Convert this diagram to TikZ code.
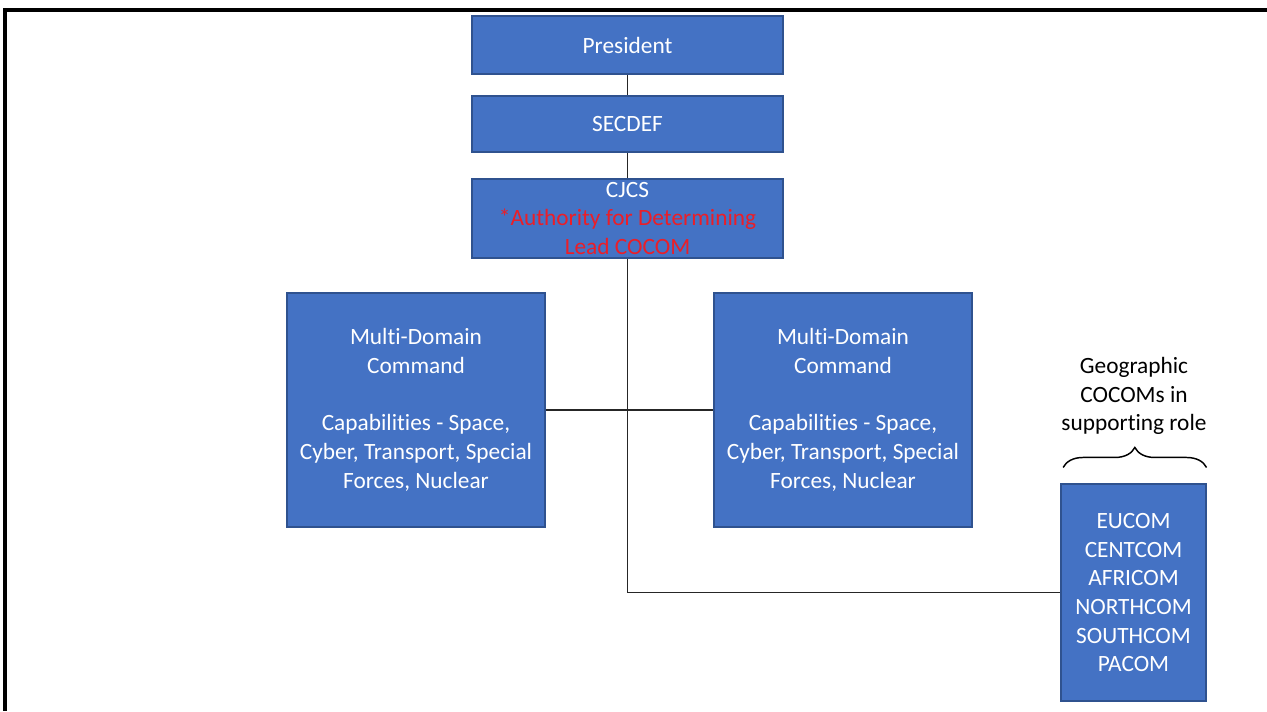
\documentclass[tikz,border=0pt]{standalone}
\usepackage{fontspec}
\setmainfont{Carlito}[Ligatures={NoCommon}]
\usetikzlibrary{decorations.pathreplacing}
\definecolor{boxblue}{HTML}{4472C4}
\definecolor{boxedge}{HTML}{2F528F}
\definecolor{noteRed}{RGB}{235,30,40}
\tikzset{
  orgbox/.style={draw=boxedge, line width=0.8pt, fill=boxblue, text=white,
    align=center, inner sep=0pt, font=\fontsize{17.5}{21.5}\selectfont},
  link/.style={line width=1.3pt, black!85},
}
\begin{document}
\begin{tikzpicture}[x=0.75pt,y=-0.75pt]
  \useasboundingbox (0,0) rectangle (1267,711);
  % outer frame (top and left edges)
  \draw[line width=2.4pt] (1267,10) -- (5,10) -- (5,711);

  % chain of command
  \node[orgbox, minimum width=233.25pt, minimum height=43.5pt] (pres) at (627.5,45) {President};
  \node[orgbox, minimum width=233.25pt, minimum height=42pt] (secdef) at (627.5,124) {SECDEF};
  \node[orgbox, minimum width=233.25pt, minimum height=59.25pt] (cjcs) at (627.5,218.5)
    {CJCS\\ \textcolor{noteRed}{*Authority for Determining}\\ \textcolor{noteRed}{Lead COCOM}};

  % multi-domain commands
  \node[orgbox, minimum width=193.5pt, minimum height=175.5pt] (mdcl) at (416,410)
    {Multi-Domain\\ Command\\[21.5pt] Capabilities - Space,\\ Cyber, Transport, Special\\ Forces, Nuclear};
  \node[orgbox, minimum width=193.5pt, minimum height=175.5pt] (mdcr) at (843,410)
    {Multi-Domain\\ Command\\[21.5pt] Capabilities - Space,\\ Cyber, Transport, Special\\ Forces, Nuclear};

  % geographic combatant commands
  \node[orgbox, minimum width=108.75pt, minimum height=162.75pt] (cocom) at (1133.5,592.5)
    {EUCOM\\ CENTCOM\\ AFRICOM\\ NORTHCOM\\ SOUTHCOM\\ PACOM};
  \node[align=center, inner sep=0pt, font=\fontsize{17.5}{21.5}\selectfont] (geo) at (1134,396)
    {Geographic\\ COCOMs in\\ supporting role};
  \draw[line width=1.1pt, decorate, decoration={brace, amplitude=15pt}]
    ([xshift=2pt, yshift=12pt]cocom.north west) -- ([yshift=12pt]cocom.north east);

  % connectors
  \draw[link] (pres) -- (secdef);
  \draw[link] (secdef) -- (cjcs);
  \draw[link] (cjcs.south) |- (cocom.west);
  \draw[link] (mdcl.east) -- (mdcr.west);
\end{tikzpicture}
\end{document}
